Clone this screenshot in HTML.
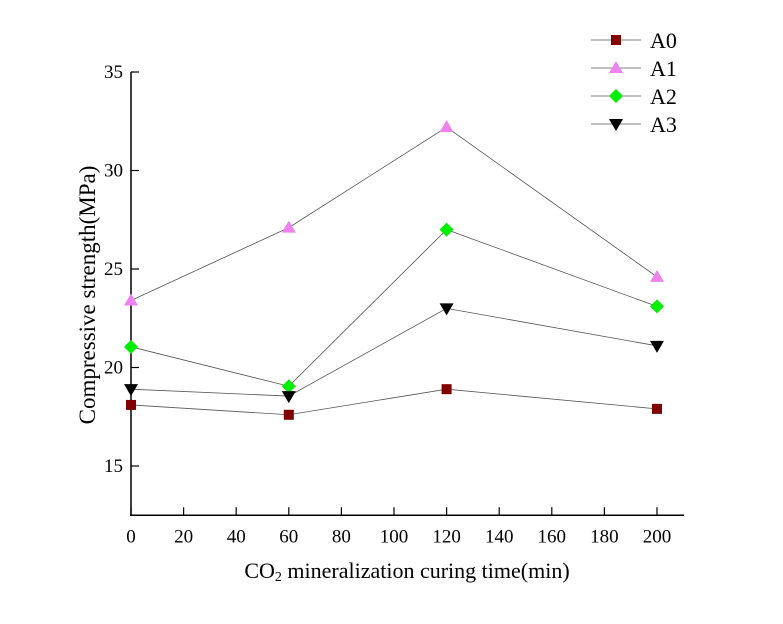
<!DOCTYPE html>
<html><head><meta charset="utf-8"><style>
body{margin:0;background:#fff}
svg text{font-family:"Liberation Serif",serif;fill:#000}
</style></head><body>
<svg width="783" height="619" xmlns="http://www.w3.org/2000/svg">
<g id="axes"></g><g id="series"></g><g id="legend"></g>
<text x="407" y="578" font-size="22" text-anchor="middle">CO<tspan font-size="14" dy="3">2</tspan><tspan dy="-3"> mineralization curing time(min)</tspan></text>
<text transform="translate(95,295) rotate(-90)" font-size="23" text-anchor="middle">Compressive strength(MPa)</text>
</svg>
<script>
const xValues=[0,60,120,200];
const seriesNames=["A0","A1","A2","A3"];
const a0=[18.1,17.6,18.9,17.9];
const a1=[23.4,27.1,32.2,24.6];
const a2=[21.05,19.05,27.0,23.1];
const a3=[18.9,18.55,23.0,21.1];
const xTicks=[0,20,40,60,80,100,120,140,160,180,200];
const yTicks=[15,20,25,30,35];
const NS="http://www.w3.org/2000/svg";
const X=v=>131+v*(657-131)/200;
const Y=v=>466-(v-15)*(466-72)/20;
function mk(t,a,p){const e=document.createElementNS(NS,t);for(const k in a)e.setAttribute(k,a[k]);p.appendChild(e);return e;}
const ax=document.getElementById('axes');
const yl=mk('line',{x1:131,y1:Y(12.5),x2:131,y2:72,stroke:'#000','stroke-width':1.5},ax);


const xl=mk('line',{x1:130,y1:Y(12.5),x2:684,y2:Y(12.5),stroke:'#000','stroke-width':1.5},ax);


xTicks.forEach(t=>{mk('line',{x1:X(t),x2:X(t),y1:Y(12.5),y2:Y(12.5)-8,stroke:'#000','stroke-width':1.2},ax);
const tx=mk('text',{x:X(t),y:Y(12.5)+27,'font-size':19,'text-anchor':'middle'},ax);tx.textContent=t;

});
yTicks.forEach(t=>{mk('line',{x1:131,x2:139,y1:Y(t),y2:Y(t),stroke:'#000','stroke-width':1.2},ax);
const tx=mk('text',{x:123,y:Y(t)+6,'font-size':19,'text-anchor':'end'},ax);tx.textContent=t;

});
const styles=[{c:'#800000',m:'sq'},{c:'#ee82ee',m:'up'},{c:'#00ee00',m:'dia'},{c:'#000',m:'dn'}];
function marker(p,x,y,s){
 if(s.m=='sq')return mk('rect',{x:x-5,y:y-5,width:10,height:10,fill:s.c},p);
 if(s.m=='up')return mk('polygon',{points:`${x},${y-7} ${x-7},${y+5} ${x+7},${y+5}`,fill:s.c},p);
 if(s.m=='dia')return mk('polygon',{points:`${x},${y-7} ${x+7},${y} ${x},${y+7} ${x-7},${y}`,fill:s.c},p);
 return mk('polygon',{points:`${x-7},${y-5} ${x+7},${y-5} ${x},${y+7}`,fill:s.c},p);
}
const sg=document.getElementById('series');
[a0,a1,a2,a3].forEach((d,i)=>{
 const g=mk('g',{},sg);
 
 
 mk('polyline',{points:d.map((v,j)=>X(xValues[j])+','+Y(v)).join(' '),fill:'none',stroke:'#555','stroke-width':0.8},g);
 d.forEach((v,j)=>{const m=marker(g,X(xValues[j]),Y(v),styles[i]);
 
 });
});
const lg=document.getElementById('legend');
seriesNames.forEach((n,i)=>{
 const y=40+i*28;
 const g=mk('g',{},lg);
 
 
 mk('line',{x1:591,x2:641,y1:y,y2:y,stroke:'#555','stroke-width':0.8},g);
 marker(g,616,y,styles[i]);
 const t=mk('text',{x:650,y:y+8,'font-size':22},g);t.textContent=n;
});
</script>
</body></html>
